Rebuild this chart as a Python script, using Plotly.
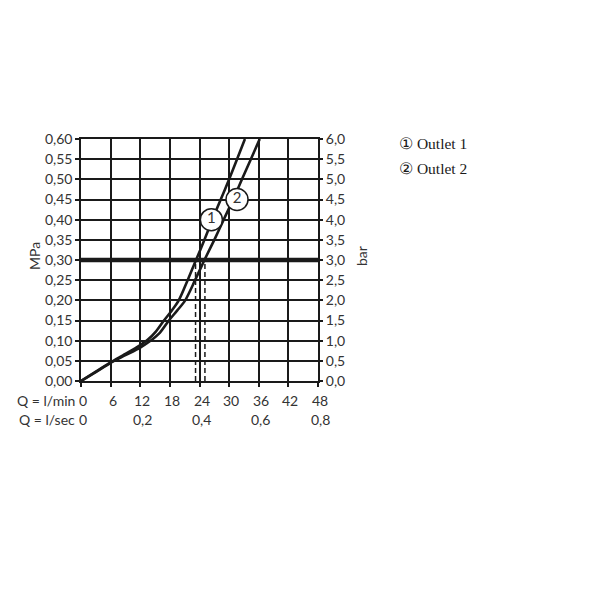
import plotly.graph_objects as go

# ---- data ----
flow_lmin_ticks = [0, 6, 12, 18, 24, 30, 36, 42, 48]
flow_lmin_labels = ["0", "6", "12", "18", "24", "30", "36", "42", "48"]
flow_lsec_ticks = [0, 12, 24, 36, 48]
flow_lsec_labels = ["0", "0,2", "0,4", "0,6", "0,8"]
mpa_ticks = [0.0, 0.05, 0.10, 0.15, 0.20, 0.25, 0.30, 0.35, 0.40, 0.45, 0.50, 0.55, 0.60]
mpa_labels = ["0,00", "0,05", "0,10", "0,15", "0,20", "0,25", "0,30", "0,35", "0,40", "0,45", "0,50", "0,55", "0,60"]
bar_ticks = [0.0, 0.5, 1.0, 1.5, 2.0, 2.5, 3.0, 3.5, 4.0, 4.5, 5.0, 5.5, 6.0]
bar_labels = ["0,0", "0,5", "1,0", "1,5", "2,0", "2,5", "3,0", "3,5", "4,0", "4,5", "5,0", "5,5", "6,0"]

outlet1_q = [0, 3, 6, 9, 12, 13.5, 15.2, 16.8, 18.4, 19.8, 21.6, 23.3, 25.0, 26.6, 28.3, 30.0, 31.6, 33.2]
outlet1_p = [0, 0.023, 0.046, 0.067, 0.089, 0.102, 0.123, 0.15, 0.175, 0.20, 0.25, 0.30, 0.35, 0.40, 0.45, 0.50, 0.55, 0.60]
outlet2_q = [0, 3, 6, 9, 12, 14.0, 16.0, 17.8, 19.5, 21.1, 23.1, 25.0, 27.0, 28.9, 30.8, 32.6, 34.4, 36.2]
outlet2_p = [0, 0.022, 0.045, 0.064, 0.083, 0.099, 0.12, 0.15, 0.175, 0.20, 0.25, 0.30, 0.35, 0.40, 0.45, 0.50, 0.55, 0.60]

ref_pressure = 0.30
crossing_q = [23.2, 25.1]
marker_q = [26.4, 31.6]
marker_p = [0.40, 0.45]
marker_text = ["1", "2"]
legend_items = ["\u2460 Outlet 1", "\u2461 Outlet 2"]

INK = "#1a1a1a"
TXT = "#333333"
SANS = "Lato, 'DejaVu Sans', sans-serif"

fig = go.Figure()

# reference pressure line
fig.add_trace(go.Scatter(x=[0, 48], y=[ref_pressure, ref_pressure], mode="lines",
                         line=dict(color=INK, width=4.5), hoverinfo="skip", showlegend=False))
# dashed crossing lines
for q in crossing_q:
    fig.add_trace(go.Scatter(x=[q, q], y=[0, ref_pressure], mode="lines",
                             line=dict(color=INK, width=1.5, dash="5px,3px"),
                             hoverinfo="skip", showlegend=False))
# curves
fig.add_trace(go.Scatter(x=outlet1_q, y=outlet1_p, mode="lines",
                         line=dict(color=INK, width=2.6, shape="spline", smoothing=0.8),
                         showlegend=False))
fig.add_trace(go.Scatter(x=outlet2_q, y=outlet2_p, mode="lines",
                         line=dict(color=INK, width=2.6, shape="spline", smoothing=0.8),
                         showlegend=False))
# circled labels on curves
fig.add_trace(go.Scatter(x=marker_q, y=marker_p, mode="markers+text", text=marker_text,
                         textposition="middle center",
                         textfont=dict(family=SANS, size=15, color=TXT),
                         marker=dict(size=22, color="white", line=dict(color=INK, width=1.5)),
                         showlegend=False, cliponaxis=False))
# invisible trace for secondary axis
fig.add_trace(go.Scatter(x=[0, 48], y=[0, 6], yaxis="y2", mode="markers", marker=dict(opacity=0),
                         hoverinfo="skip", showlegend=False))

fig.update_layout(
    width=600, height=600,
    margin=dict(l=73, r=290, t=131, b=227),
    plot_bgcolor="white", paper_bgcolor="white",
    font=dict(family=SANS, size=14, color=TXT),
    xaxis=dict(range=[0, 48], tickvals=flow_lmin_ticks, showticklabels=False,
               showgrid=True, gridcolor=INK, gridwidth=1.5,
               showline=True, linecolor=INK, linewidth=1.5, mirror=True,
               ticks="outside", ticklen=4, tickcolor=INK, tickwidth=1.5, zeroline=False),
    yaxis=dict(range=[0, 0.6], tickvals=mpa_ticks, ticktext=mpa_labels,
               showgrid=True, gridcolor=INK, gridwidth=1.5,
               showline=True, linecolor=INK, linewidth=1.5, mirror=True,
               ticks="outside", ticklen=4, tickcolor=INK, tickwidth=1.5, zeroline=False),
    yaxis2=dict(range=[0, 6], tickvals=bar_ticks, ticktext=bar_labels, overlaying="y", side="right",
                showgrid=False, ticks="outside", ticklen=4, tickcolor=INK, tickwidth=1.5,
                showline=False, zeroline=False),
)

annotations = []
for q, lab in zip(flow_lmin_ticks, flow_lmin_labels):
    annotations.append(dict(x=q, y=0, xref="x", yref="paper", text=lab, showarrow=False,
                            xanchor="center", yanchor="middle", yshift=-19, xshift=2))
for q, lab in zip(flow_lsec_ticks, flow_lsec_labels):
    annotations.append(dict(x=q, y=0, xref="x", yref="paper", text=lab, showarrow=False,
                            xanchor="center", yanchor="middle", yshift=-38, xshift=2))
annotations.append(dict(x=0, y=0, xref="paper", yref="paper", text="Q = l/min", showarrow=False,
                        xanchor="right", yanchor="middle", yshift=-19, xshift=-4))
annotations.append(dict(x=0, y=0, xref="paper", yref="paper", text="Q = l/sec", showarrow=False,
                        xanchor="right", yanchor="middle", yshift=-38, xshift=-4))
annotations.append(dict(x=0, y=0.5165, xref="paper", yref="paper", text="MPa", showarrow=False,
                        textangle=-90, xanchor="center", yanchor="middle", xshift=-47))
annotations.append(dict(x=1, y=0.5165, xref="paper", yref="paper", text="bar", showarrow=False,
                        textangle=-90, xanchor="center", yanchor="middle", xshift=43))
for i, item in enumerate(legend_items):
    annotations.append(dict(x=1, y=1, xref="paper", yref="paper", text=item, showarrow=False,
                            xanchor="left", yanchor="middle", xshift=79, yshift=-4 - 25 * i,
                            font=dict(family="'Liberation Serif', 'Times New Roman', serif", size=15.5, color=INK)))
fig.update_layout(annotations=annotations)

fig.write_html("out.html")
